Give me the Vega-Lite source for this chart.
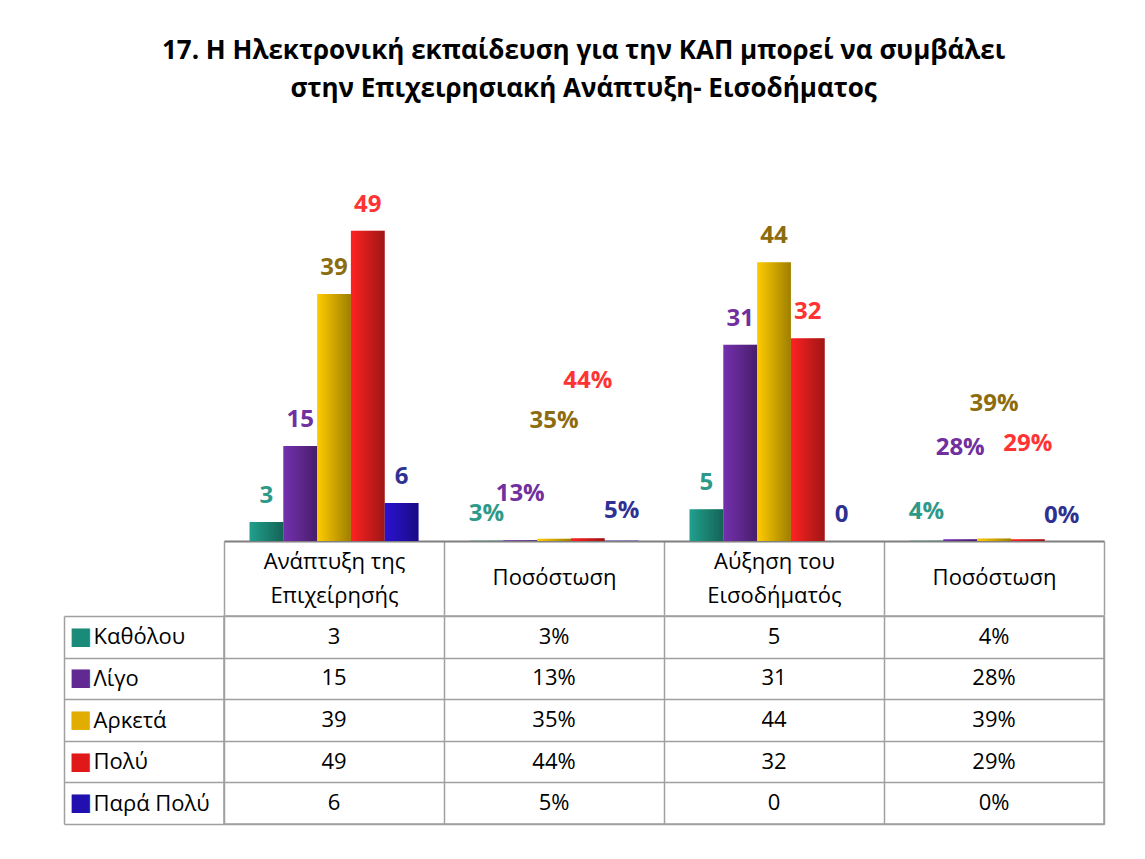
{
  "$schema": "https://vega.github.io/schema/vega-lite/v6.json",
  "padding": {"left": 62, "top": 38, "right": 5, "bottom": 5},
  "background": "white",
  "title": {
    "text": ["17. Η Ηλεκτρονική εκπαίδευση για την ΚΑΠ μπορεί να συμβάλει", "στην Επιχειρησιακή Ανάπτυξη- Εισοδήματος"],
    "font": "Open Sans",
    "fontSize": 26,
    "fontWeight": "bold",
    "color": "#000000",
    "lineHeight": 38,
    "offset": 59,
    "anchor": "middle",
    "frame": "bounds"
  },
  "datasets": {
    "main": [
      {"group": "Ανάπτυξη της Επιχείρησής", "measure": "count", "series": "Καθόλου", "value": 3, "label": "3"},
      {"group": "Ανάπτυξη της Επιχείρησής", "measure": "count", "series": "Λίγο", "value": 15, "label": "15"},
      {"group": "Ανάπτυξη της Επιχείρησής", "measure": "count", "series": "Αρκετά", "value": 39, "label": "39"},
      {"group": "Ανάπτυξη της Επιχείρησής", "measure": "count", "series": "Πολύ", "value": 49, "label": "49"},
      {"group": "Ανάπτυξη της Επιχείρησής", "measure": "count", "series": "Παρά Πολύ", "value": 6, "label": "6"},
      {"group": "Ποσόστωση (Ανάπτυξη)", "measure": "percent", "series": "Καθόλου", "value": 0.03, "label": "3%"},
      {"group": "Ποσόστωση (Ανάπτυξη)", "measure": "percent", "series": "Λίγο", "value": 0.13, "label": "13%"},
      {"group": "Ποσόστωση (Ανάπτυξη)", "measure": "percent", "series": "Αρκετά", "value": 0.35, "label": "35%"},
      {"group": "Ποσόστωση (Ανάπτυξη)", "measure": "percent", "series": "Πολύ", "value": 0.44, "label": "44%"},
      {"group": "Ποσόστωση (Ανάπτυξη)", "measure": "percent", "series": "Παρά Πολύ", "value": 0.05, "label": "5%"},
      {"group": "Αύξηση του Εισοδήματός", "measure": "count", "series": "Καθόλου", "value": 5, "label": "5"},
      {"group": "Αύξηση του Εισοδήματός", "measure": "count", "series": "Λίγο", "value": 31, "label": "31"},
      {"group": "Αύξηση του Εισοδήματός", "measure": "count", "series": "Αρκετά", "value": 44, "label": "44"},
      {"group": "Αύξηση του Εισοδήματός", "measure": "count", "series": "Πολύ", "value": 32, "label": "32"},
      {"group": "Αύξηση του Εισοδήματός", "measure": "count", "series": "Παρά Πολύ", "value": 0, "label": "0"},
      {"group": "Ποσόστωση (Εισόδημα)", "measure": "percent", "series": "Καθόλου", "value": 0.04, "label": "4%"},
      {"group": "Ποσόστωση (Εισόδημα)", "measure": "percent", "series": "Λίγο", "value": 0.28, "label": "28%"},
      {"group": "Ποσόστωση (Εισόδημα)", "measure": "percent", "series": "Αρκετά", "value": 0.39, "label": "39%"},
      {"group": "Ποσόστωση (Εισόδημα)", "measure": "percent", "series": "Πολύ", "value": 0.29, "label": "29%"},
      {"group": "Ποσόστωση (Εισόδημα)", "measure": "percent", "series": "Παρά Πολύ", "value": 0, "label": "0%"}
    ]
  },
  "spacing": -12,
  "vconcat": [
    {
      "width": 880,
      "height": 380,
      "view": {"stroke": null},
      "data": {"name": "main"},
      "encoding": {
        "x": {
          "field": "group",
          "type": "nominal",
          "scale": {
            "domain": ["Ανάπτυξη της Επιχείρησής", "Ποσόστωση (Ανάπτυξη)", "Αύξηση του Εισοδήματός", "Ποσόστωση (Εισόδημα)"],
            "paddingInner": 0,
            "paddingOuter": 0
          },
          "axis": {
            "orient": "bottom",
            "title": null,
            "domain": true,
            "domainColor": "#7f7f7f",
            "domainWidth": 2,
            "ticks": true,
            "tickBand": "extent",
            "tickSize": 74,
            "tickColor": "#a0a0a0",
            "tickWidth": 1.5,
            "grid": false,
            "labelAngle": 0,
            "labelFont": "Open Sans",
            "labelFontSize": 22,
            "labelColor": "#000000",
            "labelBaseline": {
              "condition": {"test": "datum.value == 'Ποσόστωση (Ανάπτυξη)' || datum.value == 'Ποσόστωση (Εισόδημα)'", "value": "line-top"},
              "value": "middle"
            },
            "labelPadding": -54,
            "labelLineHeight": 34,
            "labelLimit": 215,
            "labelExpr": "datum.label == 'Ανάπτυξη της Επιχείρησής' ? ['Ανάπτυξη της', 'Επιχείρησής'] : datum.label == 'Αύξηση του Εισοδήματός' ? ['Αύξηση του', 'Εισοδήματός'] : (datum.label == 'Ποσόστωση (Ανάπτυξη)' || datum.label == 'Ποσόστωση (Εισόδημα)') ? 'Ποσόστωση' : ''"
          }
        },
        "xOffset": {
          "field": "series",
          "type": "nominal",
          "scale": {
            "domain": ["Καθόλου", "Λίγο", "Αρκετά", "Πολύ", "Παρά Πολύ"],
            "paddingInner": 0,
            "paddingOuter": 0.755
          }
        }
      },
      "layer": [
        {
          "mark": {"type": "bar"},
          "encoding": {
            "y": {"field": "value", "type": "quantitative", "scale": {"domain": [0, 60]}, "axis": null},
            "color": {
              "field": "series",
              "type": "nominal",
              "scale": {
                "domain": ["Καθόλου", "Λίγο", "Αρκετά", "Πολύ", "Παρά Πολύ"],
                "range": ["#21a08c", "#7430ae", "#ffcc00", "#ff2222", "#2a12d2"]
              },
              "legend": null
            }
          }
        },
        {
          "mark": {
            "type": "bar",
            "color": {
              "gradient": "linear",
              "x1": 0, "y1": 0, "x2": 1, "y2": 0,
              "stops": [
                {"offset": 0, "color": "rgba(0,0,0,0)"},
                {"offset": 1, "color": "rgba(0,0,0,0.38)"}
              ]
            }
          },
          "encoding": {
            "y": {"field": "value", "type": "quantitative", "scale": {"domain": [0, 60]}, "axis": null}
          }
        },
        {
          "transform": [{"filter": "datum.measure == 'count'"}],
          "mark": {"type": "text", "font": "Open Sans", "fontSize": 24, "fontWeight": "bold", "baseline": "alphabetic", "dy": -19},
          "encoding": {
            "y": {"field": "value", "type": "quantitative", "scale": {"domain": [0, 60]}, "axis": null},
            "text": {"field": "label"},
            "color": {
              "field": "series",
              "type": "nominal",
              "scale": {
                "domain": ["Καθόλου", "Λίγο", "Αρκετά", "Πολύ", "Παρά Πολύ"],
                "range": ["#2e9988", "#7030a0", "#8c6c0f", "#ff3333", "#2e3192"]
              },
              "legend": null
            }
          }
        },
        {
          "transform": [{"filter": "datum.measure == 'percent'"}],
          "mark": {"type": "text", "font": "Open Sans", "fontSize": 24, "fontWeight": "bold", "baseline": "alphabetic", "dy": -18},
          "encoding": {
            "y": {"field": "value", "type": "quantitative", "scale": {"type": "pow", "exponent": 1.5, "domain": [0, 0.879]}, "axis": null},
            "text": {"field": "label"},
            "color": {
              "field": "series",
              "type": "nominal",
              "scale": {
                "domain": ["Καθόλου", "Λίγο", "Αρκετά", "Πολύ", "Παρά Πολύ"],
                "range": ["#2e9988", "#7030a0", "#8c6c0f", "#ff3333", "#2e3192"]
              },
              "legend": null
            }
          }
        }
      ],
      "resolve": {"scale": {"y": "independent", "color": "independent"}}
    },
    {
      "width": 880,
      "height": 208,
      "view": {"stroke": "#a0a0a0", "strokeWidth": 1.5},
      "data": {"name": "main"},
      "layer": [
        {
          "mark": {"type": "text", "font": "Open Sans", "fontSize": 22, "color": "#000000"},
          "encoding": {
            "x": {
              "field": "group",
              "type": "nominal",
              "scale": {
                "domain": ["Ανάπτυξη της Επιχείρησής", "Ποσόστωση (Ανάπτυξη)", "Αύξηση του Εισοδήματός", "Ποσόστωση (Εισόδημα)"],
                "paddingInner": 0,
                "paddingOuter": 0
              },
              "axis": {
                "orient": "bottom",
                "title": null,
                "grid": true,
                "tickBand": "extent",
                "gridColor": "#a0a0a0",
                "gridWidth": 1.5,
                "labels": false,
                "ticks": false,
                "domain": false
              }
            },
            "y": {
              "field": "series",
              "type": "nominal",
              "scale": {
                "domain": ["Καθόλου", "Λίγο", "Αρκετά", "Πολύ", "Παρά Πολύ"],
                "paddingInner": 0,
                "paddingOuter": 0
              },
              "axis": {
                "orient": "left",
                "title": null,
                "domain": false,
                "ticks": false,
                "grid": true,
                "tickBand": "extent",
                "gridColor": "#a0a0a0",
                "gridWidth": 1.5,
                "labelAlign": "left",
                "labelPadding": 131,
                "labelFont": "Open Sans",
                "labelFontSize": 22,
                "labelColor": "#000000",
                "labelLimit": 200
              }
            },
            "text": {"field": "label"}
          }
        },
        {
          "mark": {"type": "text", "opacity": 0},
          "encoding": {
            "y": {
              "field": "series",
              "type": "nominal",
              "axis": {
                "orient": "left",
                "title": null,
                "domain": false,
                "ticks": false,
                "grid": false,
                "labelExpr": "'■'",
                "labelFont": "DejaVu Sans",
                "labelFontSize": 24,
                "labelAlign": "left",
                "labelPadding": 155,
                "labelColor": {
                  "condition": [
                    {"test": "datum.value == 'Καθόλου'", "value": "#1a8a79"},
                    {"test": "datum.value == 'Λίγο'", "value": "#612a92"},
                    {"test": "datum.value == 'Αρκετά'", "value": "#e0ad00"},
                    {"test": "datum.value == 'Πολύ'", "value": "#e01818"}
                  ],
                  "value": "#220fb0"
                }
              }
            },
            "text": {"value": ""}
          }
        },
        {
          "mark": {"type": "text", "opacity": 0},
          "encoding": {
            "y": {
              "field": "series",
              "type": "nominal",
              "axis": {
                "orient": "left",
                "title": null,
                "domain": false,
                "labels": false,
                "grid": false,
                "ticks": true,
                "tickBand": "extent",
                "tickSize": 160,
                "tickColor": "#a0a0a0",
                "tickWidth": 1.5
              }
            },
            "text": {"value": ""}
          }
        },
        {
          "mark": {"type": "text", "opacity": 0},
          "encoding": {
            "y": {
              "field": "series",
              "type": "nominal",
              "axis": {
                "orient": "left",
                "title": null,
                "offset": 160,
                "domain": true,
                "domainColor": "#a0a0a0",
                "domainWidth": 1.5,
                "labels": false,
                "ticks": false,
                "grid": false
              }
            },
            "text": {"value": ""}
          }
        }
      ],
      "resolve": {"axis": {"y": "independent"}}
    }
  ],
  "config": {"font": "Open Sans", "view": {"stroke": null}}
}
